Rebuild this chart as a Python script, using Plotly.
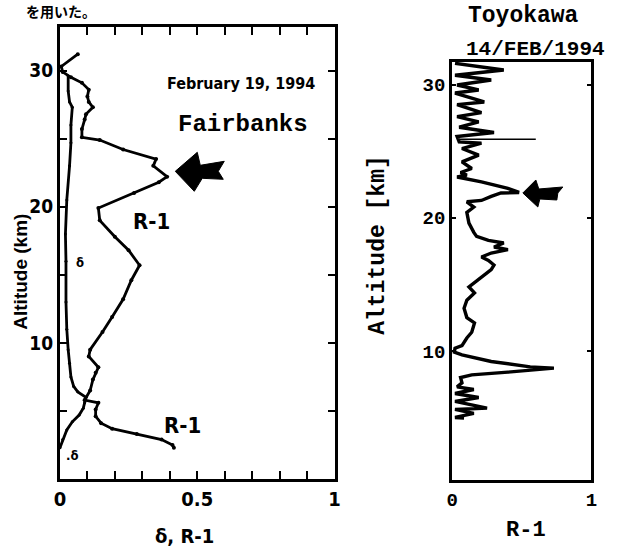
import plotly.graph_objects as go

W, H = 622, 551

# ---------------- data ----------------
# Fairbanks, February 19, 1994  (R-1 and depolarisation delta vs altitude)
fb_r1_x = [0.065, 0.005, 0.01, 0.04, 0.08, 0.105, 0.1, 0.105, 0.12, 0.095, 0.09, 0.08, 0.08,
           0.145, 0.23, 0.35, 0.34, 0.39, 0.36, 0.27, 0.14, 0.145, 0.2, 0.25, 0.29, 0.26, 0.23,
           0.19, 0.155, 0.11, 0.105, 0.14, 0.13, 0.12, 0.11, 0.09, 0.14, 0.13, 0.13, 0.15, 0.19,
           0.28, 0.37, 0.41, 0.415]
fb_r1_alt = [31.2, 30.3, 29.9, 29.5, 29.1, 28.6, 28.1, 27.7, 27.3, 26.8, 26.4, 25.7, 25.1,
             24.9, 24.2, 23.5, 23.0, 22.2, 21.8, 21.0, 19.9, 19.0, 17.8, 16.8, 15.7, 14.6, 13.2,
             11.9, 10.8, 9.5, 9.0, 8.2, 7.8, 7.3, 6.5, 5.8, 5.6, 5.1, 4.6, 4.1, 3.7,
             3.3, 2.9, 2.5, 2.3]
fb_delta_x = [0.03, 0.03, 0.035, 0.045, 0.04, 0.04, 0.035, 0.025, 0.02, 0.022, 0.022, 0.025,
              0.03, 0.035, 0.04, 0.05, 0.065, 0.095, 0.09, 0.085, 0.07, 0.045, 0.025, 0.01, 0.0]
fb_delta_alt = [29.6, 28.5, 27.7, 27.3, 26.0, 24.7, 23.0, 20.5, 18.0, 16.0, 13.0, 11.0,
                9.5, 8.5, 7.5, 6.8, 6.4, 6.0, 5.6, 5.2, 4.7, 4.2, 3.6, 2.9, 2.3]

# Toyokawa, 14/FEB/1994  (R-1 vs altitude)
ty_r1_x = [0.02, 0.37, 0.02, 0.28, 0.035, 0.19, 0.02, 0.23, 0.035, 0.21, 0.035, 0.19, 0.05,
           0.30, 0.035, 0.05, 0.21, 0.07, 0.19, 0.07, 0.14, 0.06, 0.105, 0.035, 0.21, 0.40,
           0.48, 0.35, 0.28, 0.21, 0.105, 0.155, 0.105, 0.12, 0.155, 0.175, 0.26, 0.37, 0.30,
           0.40, 0.28, 0.21, 0.26, 0.30, 0.28, 0.21, 0.16, 0.12, 0.16, 0.105, 0.085, 0.105,
           0.16, 0.14, 0.105, 0.07, 0.02, 0.015, 0.07, 0.28, 0.56, 0.73, 0.40, 0.14, 0.06,
           0.07, 0.035, 0.155, 0.02, 0.19, 0.02, 0.25, 0.02, 0.155, 0.02, 0.085]
ty_alt = [31.6, 31.1, 30.7, 30.35, 29.97, 29.6, 29.37, 28.7, 28.5, 27.9, 27.6, 27.2, 26.8,
          26.4, 26.1, 25.7, 25.6, 25.2, 24.7, 24.2, 23.7, 23.4, 23.2, 23.06, 22.7, 22.2,
          21.9, 21.86, 21.6, 21.3, 21.2, 20.8, 20.4, 19.6, 18.9, 18.6, 18.3, 18.1, 17.8,
          17.6, 17.35, 17.05, 16.8, 16.45, 16.1, 15.55, 15.1, 14.8, 14.35, 13.8, 13.2, 12.5,
          12.1, 11.4, 10.97, 10.4, 10.2, 9.9, 9.7, 9.2, 8.8, 8.7, 8.4, 8.2, 8.0,
          7.6, 7.3, 7.1, 6.8, 6.5, 6.2, 5.7, 5.6, 5.3, 5.0, 4.95]
ty_spike_x = [0.05, 0.6]
ty_spike_alt = [25.9, 25.9]

left_xticks = [0, 0.1, 0.2, 0.3, 0.4, 0.5, 0.6, 0.7, 0.8, 0.9, 1.0]
left_xlabels = ["0", "", "", "", "", "0.5", "", "", "", "", "1"]
left_yticks = [0, 5, 10, 15, 20, 25, 30]
left_ylabels = ["", "", "10", "", "20", "", "30"]
right_xticks = [0, 1]
right_xlabels = ["0", "1"]
right_yticks = [10, 20, 30]
right_ylabels = ["10", "20", "30"]

# ---------------- styling ----------------
COND = "Liberation Sans Narrow, DejaVu Sans Condensed, Roboto Condensed, Arial Narrow, Liberation Sans, sans-serif"
MONO = "Liberation Mono, Courier New, DejaVu Sans Mono, monospace"
SANS = "Liberation Sans, Arial, sans-serif"
CJK = "Noto Sans CJK JP"


def px_x(x):
    return x / W


def px_y(y):
    return 1 - y / H


fig = go.Figure()

line_style = dict(color="black", width=2.8)
fig.add_trace(go.Scatter(x=fb_r1_x, y=fb_r1_alt, mode="lines+markers", line=line_style,
                         marker=dict(size=4, color="black"), xaxis="x", yaxis="y",
                         showlegend=False, hoverinfo="skip"))
fig.add_trace(go.Scatter(x=fb_delta_x, y=fb_delta_alt, mode="lines+markers", line=line_style,
                         marker=dict(size=3, color="black"), xaxis="x", yaxis="y",
                         showlegend=False, hoverinfo="skip"))
fig.add_trace(go.Scatter(x=ty_r1_x, y=ty_alt, mode="lines", line=dict(color="black", width=3.4),
                         xaxis="x2", yaxis="y2", showlegend=False, hoverinfo="skip"))
fig.add_trace(go.Scatter(x=ty_spike_x, y=ty_spike_alt, mode="lines", line=dict(color="black", width=1.5),
                         xaxis="x2", yaxis="y2", showlegend=False, hoverinfo="skip"))

axis_common = dict(showgrid=False, zeroline=False, showline=True, linecolor="black",
                   linewidth=3, mirror="ticks", tickcolor="black", tickwidth=2)

fig.update_layout(
    width=W, height=H,
    margin=dict(l=0, r=0, t=0, b=0),
    paper_bgcolor="white", plot_bgcolor="white",
    xaxis=dict(domain=[px_x(55), px_x(335)], range=[0, 1], tickvals=left_xticks,
               ticktext=left_xlabels, ticks="inside", ticklen=8, anchor="y",
               tickfont=dict(family=COND, size=20, color="black", weight="bold"), **axis_common),
    yaxis=dict(domain=[px_y(479), px_y(27)], range=[0, 33.2], tickvals=left_yticks,
               ticktext=left_ylabels, ticks="inside", ticklen=7, anchor="x",
               tickfont=dict(family=COND, size=19, color="black", weight="bold"), **axis_common),
    xaxis2=dict(domain=[px_x(455), px_x(597)], range=[0, 1], tickvals=right_xticks,
                ticktext=right_xlabels, ticks="", anchor="y2",
                tickfont=dict(family=MONO, size=19, color="black", weight="bold"), **axis_common),
    yaxis2=dict(domain=[px_y(480), px_y(62)], range=[0.3, 31.7], tickvals=right_yticks,
                ticktext=right_ylabels, ticks="inside", ticklen=4, anchor="x2",
                tickfont=dict(family=MONO, size=19, color="black", weight="bold"), **axis_common),
)


def note(text, x, y, family, size, angle=0, xanchor="center", yanchor="middle"):
    fig.add_annotation(text=text, x=px_x(x), y=px_y(y), xref="paper", yref="paper",
                       showarrow=False, textangle=angle, xanchor=xanchor, yanchor=yanchor,
                       font=dict(family=family, size=size, color="black", weight="bold"))


note("を用いた。", 18, 11, CJK, 14, xanchor="left")
note("February 19, 1994", 240, 83, COND, 16)
note("Fairbanks", 242, 125, MONO, 24)
note("R-1", 148, 221, COND, 22)
note("R-1", 180, 425, COND, 22)
note("δ", 75, 262, COND, 13)
note(".δ", 67, 455, COND, 13)
note("δ, R-1", 182, 536, COND, 20)
note("Altitude (km)", 14, 272, SANS, 19, angle=-90)

note("Toyokawa", 528, 16, MONO, 23)
note("14/FEB/1994", 540, 49, MONO, 21)
note("Altitude [km]", 379, 245, MONO, 23, angle=-90)
note("R-1", 530, 530, MONO, 22)

# fat pointing arrows, anchored at data positions, sized in pixels
left_arrow = "M0,0 L22,19 L25,6 L49,10 L43,0 L48,-8 L27,-7 L19,-20 Z"
right_arrow = "M0,0 L13,13 L16,4 L40,6 L35,0 L34,-7 L17,-6 L15,-14 Z"
fig.add_shape(type="path", xref="x", yref="y", xsizemode="pixel", ysizemode="pixel",
              xanchor=0.42, yanchor=22.6, path=left_arrow, fillcolor="black",
              line=dict(color="black", width=1))
fig.add_shape(type="path", xref="x2", yref="y2", xsizemode="pixel", ysizemode="pixel",
              xanchor=0.507, yanchor=21.86, path=right_arrow, fillcolor="black",
              line=dict(color="black", width=1))

fig.write_html("out.html", config={"displayModeBar": False},
               post_script="document.body.style.margin='0';")
